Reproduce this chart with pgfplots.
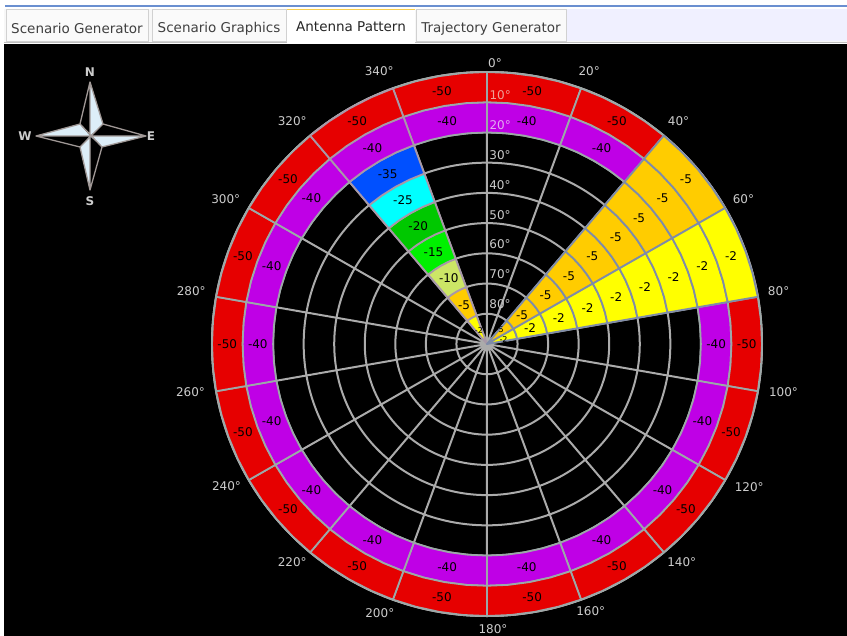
\documentclass[border=0pt]{standalone}
\usepackage{fontspec}
\setmainfont{DejaVu Sans}
\usepackage{pgfplots}
\usepackage{pgfplotstable}
\usepgfplotslibrary{polar}
\pgfplotsset{compat=1.18}

\definecolor{lev2}{HTML}{FFFF00}
\definecolor{lev5}{HTML}{FFCC00}
\definecolor{lev10}{HTML}{CCE666}
\definecolor{lev15}{HTML}{00F000}
\definecolor{lev20}{HTML}{00C800}
\definecolor{lev25}{HTML}{00FFFF}
\definecolor{lev35}{HTML}{0050FF}
\definecolor{lev40}{HTML}{BF00E6}
\definecolor{lev50}{HTML}{E60000}
\definecolor{gridg}{HTML}{ABABAB}
\definecolor{edgeg}{HTML}{9CA8A8}
\definecolor{edgew}{HTML}{A898A8}
\definecolor{edgey}{HTML}{7F8CA8}

% az = start bearing of the 20 degree sector, ring 1..9 from the centre
\pgfplotstableread{
az ring val
0 8 -40
0 9 -50
20 8 -40
20 9 -50
80 8 -40
80 9 -50
100 8 -40
100 9 -50
120 8 -40
120 9 -50
140 8 -40
140 9 -50
160 8 -40
160 9 -50
180 8 -40
180 9 -50
200 8 -40
200 9 -50
220 8 -40
220 9 -50
240 8 -40
240 9 -50
260 8 -40
260 9 -50
280 8 -40
280 9 -50
300 8 -40
300 9 -50
340 8 -40
340 9 -50
320 1 -2
320 2 -5
320 3 -10
320 4 -15
320 5 -20
320 6 -25
320 7 -35
320 8 -40
320 9 -50
40 1 -5
40 2 -5
40 3 -5
40 4 -5
40 5 -5
40 6 -5
40 7 -5
40 8 -5
40 9 -5
60 1 -2
60 2 -2
60 3 -2
60 4 -2
60 5 -2
60 6 -2
60 7 -2
60 8 -2
60 9 -2
}\cells

% the three innermost labels are too tight for the normal size
\pgfplotstableread{
az r lab
330 16 -2
42 19 -5
76 17 -2
}\innerlabels

\pgfplotstableread{
az r lab
1.6 283 0°
20.3 293 20°
40.4 294 40°
60.2 294 60°
79.6 295 80°
99.4 299 100°
118.9 298 120°
138.6 293 140°
159 288 160°
178.8 287 180°
201.5 291 200°
221.4 293 220°
241.1 296 240°
260.6 299 260°
280.2 299 280°
299.3 298 300°
319.1 296 320°
338.7 295 340°
}\azlabels

\pgfplotstableread{
az r lab
3.9 190.4 30°
4.6 160.5 40°
5.7 130.6 50°
7.4 100.8 60°
10.5 71.2 70°
18 42 80°
}\ellabels

\newcommand{\pxfont}[1]{\fontsize{#1}{#1}\selectfont}

\begin{document}
\begin{tikzpicture}
\path[use as bounding box] (0pt,-636pt) rectangle (847pt,0pt);
\begin{scope}[x=1pt,y=-1pt]
  \fill[white] (0,0) rectangle (847,636);
  \fill[black] (4,44) rectangle (847,636);
  % tab bar
  \fill[black!3!white] (4,9) rectangle (847,43);
  \fill[blue!6!white] (566,9) rectangle (847,41);
  \draw[color={rgb,255:red,106;green,143;blue,208},line width=1.2pt] (5,6) -- (847,6);
  \draw[black!25,line width=1.5pt] (4,42.5) -- (847,42.5);
  \foreach \a/\b/\t in {6/148/Scenario Generator,152/286/Scenario Graphics,416/566/Trajectory Generator}{
    \draw[black!18,fill=black!2!white,line width=1pt] (\a,10) rectangle (\b,42);
    \node[text=black!75,font=\pxfont{13.5}] at ({(\a+\b)/2},28.5) {\t};
  }
  \fill[white] (287,9) rectangle (415,43);
  \fill[color={rgb,255:red,245;green,205;blue,80}] (287,9) rectangle (415,10.5);
  \node[text=black!85,font=\pxfont{13.5}] at (351,26.5) {Antenna Pattern};
  % compass
  \fill[color={rgb,255:red,221;green,238;blue,248}]
    (90,136) -- (90,82) -- (103,124) -- cycle
    (90,136) -- (36,136) -- (80,124) -- cycle
    (90,136) -- (90,190) -- (80,147) -- cycle
    (90,136) -- (146,136) -- (102,147) -- cycle;
  \draw[color={rgb,255:red,160;green,152;blue,150},line width=1.3pt,line join=round]
    (90,82) -- (103,124) -- (146,136) -- (102,147) -- (90,190) -- (80,147) -- (36,136) -- (80,124) -- cycle
    (36,136) -- (146,136) (90,82) -- (90,190) (80,124) -- (102,147) (103,124) -- (80,147);
  \foreach \x/\y/\t in {90/72/N,90/201/S,25/136/W,151/136/E}
    \node[text=black!20,font=\pxfont{12}\bfseries] at (\x,\y) {\t};
\end{scope}
\begin{polaraxis}[
  at={(487pt,-344pt)}, anchor=origin,
  scale only axis, width=550pt, height=544pt,
  xmin=0, xmax=360, ymin=0, ymax=273.6,
  xtick={10,30,...,350},
  ytick={30.4,60.8,91.2,121.6,152,182.4,212.8,243.2,273.6},
  xticklabels={}, yticklabels={},
  major tick length=0pt,
  grid=major,
  grid style={gridg,line width=2pt},
  axis line style={gridg,line width=2pt},
  y axis line style={draw=none},
  clip=false,
  cycle list={{black}},
]
\pgfplotstablegetrowsof{\cells}
\pgfmathtruncatemacro\lastrow{\pgfplotsretval-1}
\pgfplotsforeachungrouped \i in {0,...,\lastrow}{
  \pgfplotstablegetelem{\i}{az}\of\cells \let\az\pgfplotsretval
  \pgfplotstablegetelem{\i}{ring}\of\cells \let\ring\pgfplotsretval
  \pgfplotstablegetelem{\i}{val}\of\cells \let\val\pgfplotsretval
  \pgfmathtruncatemacro\lev{-\val}
  \def\edge{edgeg}
  \ifnum\az=320 \def\edge{edgew}\fi
  \ifnum\az=40 \def\edge{edgey}\fi
  \ifnum\az=60 \def\edge{edgey}\fi
  \pgfmathsetmacro\rout{\ring*30.4}
  \pgfmathsetmacro\rin{(\ring-1)*30.4}
  \gdef\pts{}
  \foreach \k in {0,1,2,3,4}{
    \pgfmathsetmacro\th{90-\az-5*\k}
    \xdef\pts{\pts (\th,\rout)}
  }
  \foreach \k in {4,3,2,1,0}{
    \pgfmathsetmacro\th{90-\az-5*\k}
    \xdef\pts{\pts (\th,\rin)}
  }
  \edef\temp{\noexpand\addplot[fill=lev\lev,draw=\edge,line width=1.8pt,line join=round,mark=none] coordinates {\pts} --cycle;}
  \temp
}
% values in the cells
\addplot[only marks,mark=none,point meta=explicit symbolic,nodes near coords,
  y filter/.expression={y<30 ? nan : y},
  every node near coord/.append style={anchor=center,inner sep=0pt,text=black,font=\pxfont{12}}]
  table[x expr={80-\thisrow{az}},y expr={(\thisrow{ring}-0.5)*30.4},meta=val] {\cells};
\addplot[only marks,mark=none,point meta=explicit symbolic,nodes near coords,
  every node near coord/.append style={anchor=center,inner sep=0pt,text=black,font=\pxfont{8}}]
  table[x expr={90-\thisrow{az}},y=r,meta=lab] {\innerlabels};
% azimuth labels round the rim
\addplot[only marks,mark=none,point meta=explicit symbolic,nodes near coords,
  every node near coord/.append style={anchor=center,inner sep=0pt,text=black!20,font=\pxfont{12}}]
  table[x expr={90-\thisrow{az}},y=r,meta=lab] {\azlabels};
% elevation labels along the 0 spoke
\addplot[only marks,mark=none,point meta=explicit symbolic,nodes near coords,
  every node near coord/.append style={anchor=center,inner sep=0pt,text=black!20,font=\pxfont{12}}]
  table[x expr={90-\thisrow{az}},y=r,meta=lab] {\ellabels};
\addplot[only marks,mark=none,point meta=explicit symbolic,nodes near coords,
  every node near coord/.append style={anchor=center,inner sep=0pt,text={rgb,255:red,238;green,160;blue,150},font=\pxfont{12}}]
  table[x expr={90-\thisrow{az}},y=r,meta=lab] {
az r lab
3 251 10°
};
\addplot[only marks,mark=none,point meta=explicit symbolic,nodes near coords,
  every node near coord/.append style={anchor=center,inner sep=0pt,text={rgb,255:red,225;green,170;blue,240},font=\pxfont{12}}]
  table[x expr={90-\thisrow{az}},y=r,meta=lab] {
az r lab
3.4 221 20°
};
\end{polaraxis}
\end{tikzpicture}
\end{document}
